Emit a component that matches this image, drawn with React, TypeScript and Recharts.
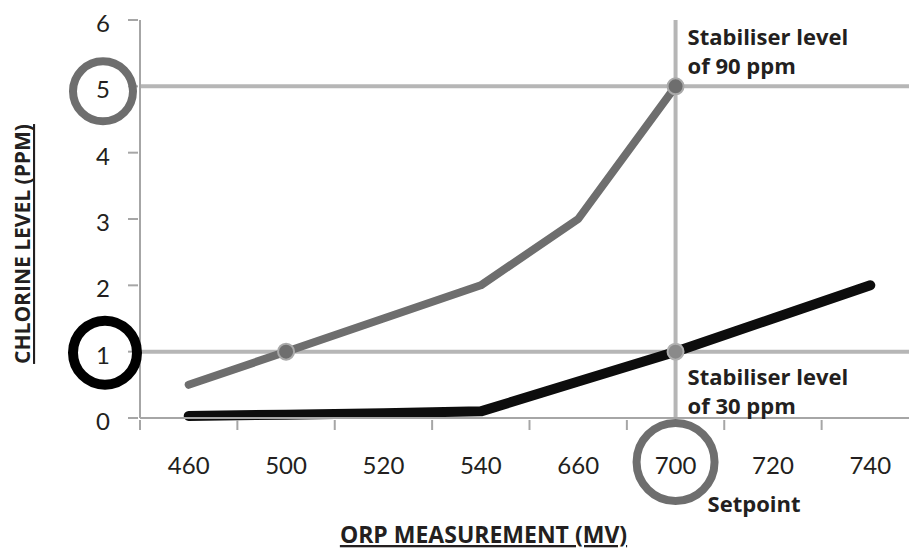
import { Line, LineChart, ReferenceDot, ReferenceLine, XAxis, YAxis } from "recharts";

// ORP categories (mV) and chlorine readings (ppm) for the two stabiliser levels
const orpLabels = ["460", "500", "520", "540", "660", "700", "720", "740"];
const stabiliser90 = [0.5, 1.0, 1.5, 2.0, 3.0, 5.0, null, null];
const stabiliser30 = [0.03, 0.05, 0.07, 0.1, 0.55, 1.0, 1.5, 2.0];
const yTicks = [0, 1, 2, 3, 4, 5, 6];

const setpoint = "700";
const chlorineAt90 = 5;
const chlorineAt30 = 1;
const crossing90 = "500";

const rows = orpLabels.map((orp, i) => ({
  orp,
  s90: stabiliser90[i],
  s30: stabiliser30[i],
}));

const WIDTH = 940;
const HEIGHT = 552;
const MARGIN = { top: 20, right: 21, bottom: 0, left: 0 };
const Y_AXIS_W = 140;
const X_AXIS_H = 134;
const BAND = (WIDTH - MARGIN.right - Y_AXIS_W) / orpLabels.length;

const AXIS = "#a6a6a6";
const REF = "#b6b6b6";
const GREY = "#6e6e6e";
const INK = "#231f20";
const BOLD = "'Open Sans', sans-serif";
const TICK_FONT = "Lato, sans-serif";

function XTick(props: any) {
  const { x, y, payload } = props;
  const isSetpoint = payload.value === setpoint;
  return (
    <g>
      <line x1={x - BAND / 2} y1={y} x2={x - BAND / 2} y2={y + 10} stroke={AXIS} strokeWidth={2} />
      <text x={x} y={y + 54} textAnchor="middle" fontFamily={TICK_FONT} fontSize={24} fill={INK}>
        {payload.value}
      </text>
      {isSetpoint && (
        <>
          <circle cx={x} cy={y + 42} r={39} fill="none" stroke={GREY} strokeWidth={8} />
          <text x={x + 32} y={y + 92} fontFamily={BOLD} fontWeight={700} fontSize={22} fill={INK}>
            Setpoint
          </text>
        </>
      )}
    </g>
  );
}

function YTick(props: any) {
  const { x, y, payload } = props;
  const v = payload.value;
  return (
    <g>
      <line x1={x - 10} y1={y} x2={x} y2={y} stroke={AXIS} strokeWidth={2} />
      <text x={x - 35} y={y + 12} textAnchor="middle" fontFamily={TICK_FONT} fontSize={24} fill={INK}>
        {v}
      </text>
      {v === chlorineAt90 && (
        <circle cx={x - 35} cy={y + 5} r={30} fill="none" stroke={GREY} strokeWidth={8} />
      )}
      {v === chlorineAt30 && (
        <circle cx={x - 33} cy={y + 1} r={32} fill="none" stroke="#000" strokeWidth={10} />
      )}
    </g>
  );
}

function YTitle(props: any) {
  const vb = props.viewBox;
  const cx = vb.x + 22;
  const cy = vb.y + vb.height / 2 + 25;
  return (
    <text
      x={cx}
      y={cy}
      transform={`rotate(-90 ${cx} ${cy})`}
      textAnchor="middle"
      dominantBaseline="central"
      fontFamily={BOLD}
      fontWeight={700}
      fontSize={21}
      fill={INK}
      textDecoration="underline"
    >
      CHLORINE LEVEL (PPM)
    </text>
  );
}

function XTitle(props: any) {
  const vb = props.viewBox;
  return (
    <text
      x={vb.x + vb.width / 2 - 46}
      y={vb.y + 125}
      textAnchor="middle"
      fontFamily={BOLD}
      fontWeight={700}
      fontSize={23}
      fill={INK}
      textDecoration="underline"
    >
      ORP MEASUREMENT (MV)
    </text>
  );
}

const note = (ppm: string, first: number, second: number) => (props: any) => {
  const vb = props.viewBox;
  const cx = vb.x + vb.width / 2;
  const cy = vb.y + vb.height / 2;
  return (
    <g fontFamily={BOLD} fontWeight={700} fontSize={22} fill={INK}>
      <text x={cx + 12} y={cy + first}>Stabiliser level</text>
      <text x={cx + 12} y={cy + second}>{`of ${ppm} ppm`}</text>
    </g>
  );
};

export default function App() {
  return (
    <div
      style={{
        position: "absolute",
        left: 0,
        top: 0,
        width: 909,
        height: 552,
        overflow: "hidden",
        background: "#fff",
      }}
    >
      <LineChart width={WIDTH} height={HEIGHT} data={rows} margin={MARGIN}>
        <XAxis
          dataKey="orp"
          type="category"
          height={X_AXIS_H}
          padding={{ left: BAND / 2, right: BAND / 2 }}
          interval={0}
          tickSize={0}
          tickLine={false}
          tick={<XTick />}
          axisLine={{ stroke: AXIS, strokeWidth: 2 }}
          label={XTitle}
        />
        <YAxis
          type="number"
          domain={[0, 6]}
          ticks={yTicks}
          width={Y_AXIS_W}
          interval={0}
          tickSize={0}
          tickLine={false}
          tick={<YTick />}
          axisLine={{ stroke: AXIS, strokeWidth: 2 }}
          label={YTitle}
        />
        <ReferenceLine y={chlorineAt90} stroke={REF} strokeWidth={4} />
        <ReferenceLine y={chlorineAt30} stroke={REF} strokeWidth={4} />
        <ReferenceLine x={setpoint} stroke={REF} strokeWidth={4} />
        <Line
          type="linear"
          dataKey="s90"
          stroke={GREY}
          strokeWidth={8}
          strokeLinecap="round"
          strokeLinejoin="round"
          dot={false}
          activeDot={false}
          isAnimationActive={false}
        />
        <Line
          type="linear"
          dataKey="s30"
          stroke="#0d0d0d"
          strokeWidth={10}
          strokeLinecap="round"
          strokeLinejoin="round"
          dot={false}
          activeDot={false}
          isAnimationActive={false}
        />
        <ReferenceDot x={crossing90} y={chlorineAt30} r={8} fill={GREY} stroke="#a9a9a9" strokeWidth={2} />
        <ReferenceDot
          x={setpoint}
          y={chlorineAt90}
          r={8}
          fill={GREY}
          stroke="#a9a9a9"
          strokeWidth={2}
          label={note("90", -41, -12)}
        />
        <ReferenceDot
          x={setpoint}
          y={chlorineAt30}
          r={8}
          fill="#8a8a8a"
          stroke="#b0b0b0"
          strokeWidth={2}
          label={note("30", 33, 62)}
        />
      </LineChart>
    </div>
  );
}
